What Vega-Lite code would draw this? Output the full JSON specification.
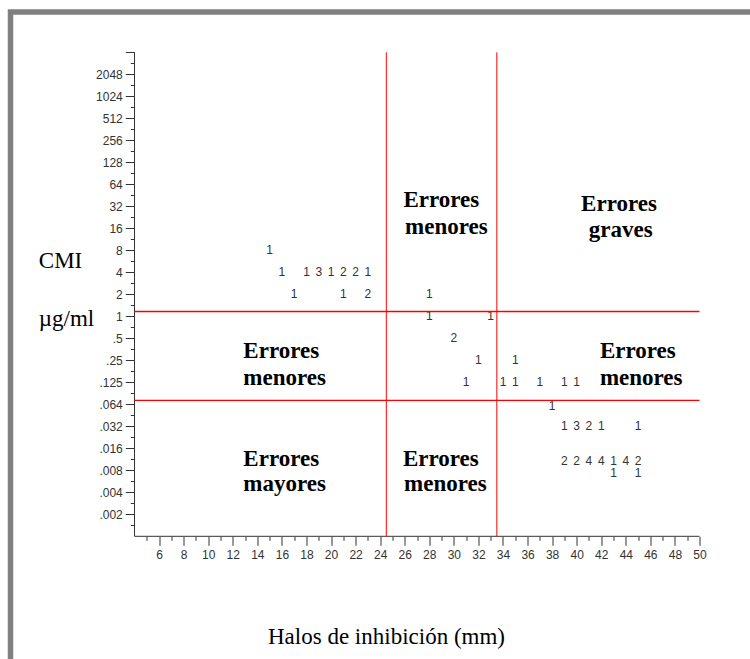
{
  "$schema": "https://vega.github.io/schema/vega-lite/v6.json",
  "width": 739.5,
  "height": 647,
  "autosize": {"type": "none"},
  "padding": {"left": 10.5, "top": 12, "right": 0, "bottom": 0},
  "background": "white",
  "config": {
    "view": {"stroke": "#808080", "strokeWidth": 5.5, "strokeDash": [739.5, 1386.5, 647], "strokeCap": "square", "fill": "white"},
    "axis": {"grid": false, "domain": false, "labelFont": "Liberation Sans", "labelFontSize": 12, "labelColor": "#333333", "tickColor": "#333333", "tickWidth": 1, "labelOverlap": false, "labelBound": false, "labelFlush": false, "titleFont": "Liberation Serif", "titleFontSize": 23, "titleFontWeight": "normal", "titleColor": "#000000"}
  },
  "datasets": {
    "counts": [
      {"x": 15, "y": 8, "n": "1"},
      {"x": 16, "y": 4, "n": "1"}, {"x": 18, "y": 4, "n": "1"}, {"x": 19, "y": 4, "n": "3"}, {"x": 20, "y": 4, "n": "1"}, {"x": 21, "y": 4, "n": "2"}, {"x": 22, "y": 4, "n": "2"}, {"x": 23, "y": 4, "n": "1"},
      {"x": 17, "y": 2, "n": "1"}, {"x": 21, "y": 2, "n": "1"}, {"x": 23, "y": 2, "n": "2"}, {"x": 28, "y": 2, "n": "1"},
      {"x": 28, "y": 1, "n": "1"}, {"x": 33, "y": 1, "n": "1"},
      {"x": 30, "y": 0.5, "n": "2"},
      {"x": 32, "y": 0.25, "n": "1"}, {"x": 35, "y": 0.25, "n": "1"},
      {"x": 31, "y": 0.125, "n": "1"}, {"x": 34, "y": 0.125, "n": "1"}, {"x": 35, "y": 0.125, "n": "1"}, {"x": 37, "y": 0.125, "n": "1"}, {"x": 39, "y": 0.125, "n": "1"}, {"x": 40, "y": 0.125, "n": "1"},
      {"x": 38, "y": 0.06, "n": "1"},
      {"x": 39, "y": 0.032, "n": "1"}, {"x": 40, "y": 0.032, "n": "3"}, {"x": 41, "y": 0.032, "n": "2"}, {"x": 42, "y": 0.032, "n": "1"}, {"x": 45, "y": 0.032, "n": "1"},
      {"x": 39, "y": 0.0104, "n": "2"}, {"x": 40, "y": 0.0104, "n": "2"}, {"x": 41, "y": 0.0104, "n": "4"}, {"x": 42, "y": 0.0104, "n": "4"}, {"x": 43, "y": 0.0104, "n": "1"}, {"x": 44, "y": 0.0104, "n": "4"}, {"x": 45, "y": 0.0104, "n": "2"},
      {"x": 43, "y": 0.0072, "n": "1"}, {"x": 45, "y": 0.0072, "n": "1"}
    ],
    "vlines": [{"x": 24.5}, {"x": 33.5}],
    "hlines": [{"y": 1.163}, {"y": 0.0707}],
    "regions": [
      {"x": 25.89, "y": 31.3, "label": "Errores"},
      {"x": 26.03, "y": 13.37, "label": "menores"},
      {"x": 40.36, "y": 28.0, "label": "Errores"},
      {"x": 40.99, "y": 12.17, "label": "graves"},
      {"x": 12.86, "y": 0.2664, "label": "Errores"},
      {"x": 12.86, "y": 0.1151, "label": "menores"},
      {"x": 41.89, "y": 0.267, "label": "Errores"},
      {"x": 41.89, "y": 0.1151, "label": "menores"},
      {"x": 12.86, "y": 0.00904, "label": "Errores"},
      {"x": 12.86, "y": 0.00402, "label": "mayores"},
      {"x": 25.85, "y": 0.00904, "label": "Errores"},
      {"x": 25.95, "y": 0.00402, "label": "menores"}
    ]
  },
  "layer": [
    {
      "data": {"name": "counts"},
      "mark": {"type": "text", "font": "Liberation Sans", "fontSize": 12, "color": "#333333", "align": "center", "baseline": "middle"},
      "encoding": {
        "x": {
          "field": "x", "type": "quantitative",
          "scale": {"domain": [-6.098, 54.112], "nice": false, "zero": false},
          "axis": {
            "orient": "bottom", "offset": -122.7, "tickCount": 200,
            "values": [5,6,7,8,9,10,11,12,13,14,15,16,17,18,19,20,21,22,23,24,25,26,27,28,29,30,31,32,33,34,35,36,37,38,39,40,41,42,43,44,45,46,47,48,49,50],
            "tickSize": {"condition": {"test": "datum.value % 2 == 0", "value": 9}, "value": 4},
            "labelExpr": "datum.value % 2 == 0 ? format(datum.value, 'd') : ''",
            "labelPadding": 4,
            "title": "Halos de inhibición (mm)",
            "titleAnchor": null,
            "titleX": 375.5, "titleY": 106.7, "titleAlign": "center", "titleBaseline": "alphabetic"
          }
        },
        "y": {
          "field": "y", "type": "quantitative",
          "scale": {"type": "log", "base": 2, "domain": [0.000020456, 14583.4], "nice": false},
          "axis": {
            "orient": "left", "offset": -123.8, "tickCount": 200,
            "values": [0.0013810679, 0.001953125, 0.0027621359, 0.00390625, 0.0055242717, 0.0078125, 0.0110485435, 0.015625, 0.0220970869, 0.03125, 0.0441941738, 0.0625, 0.0883883476, 0.125, 0.1767766953, 0.25, 0.3535533906, 0.5, 0.7071067812, 1, 1.4142135624, 2, 2.8284271247, 4, 5.6568542495, 8, 11.313708499, 16, 22.627416998, 32, 45.254833996, 64, 90.509667992, 128, 181.01933598, 256, 362.03867197, 512, 724.07734394, 1024, 1448.1546879, 2048, 2896.3093757, 4096],
            "tickSize": {"condition": {"test": "abs(log(datum.value)/LN2 - round(log(datum.value)/LN2)) < 0.05", "value": 9}, "value": 4},
            "labelExpr": "abs(log(datum.value)/LN2 - round(log(datum.value)/LN2)) > 0.05 || datum.value > 3000 ? '' : datum.value >= 1 ? format(datum.value, 'd') : ['.5','.25','.125','.064','.032','.016','.008','.004','.002'][round(-log(datum.value)/LN2) - 1]",
            "labelPadding": 3,
            "title": ["CMI", "µg/ml"],
            "titleAngle": 0,
            "titleAnchor": null,
            "titleX": -96, "titleY": 255.7, "titleAlign": "left", "titleBaseline": "alphabetic", "titleLineHeight": 57.4
          }
        },
        "text": {"field": "n", "type": "nominal"}
      }
    },
    {
      "data": {"values": [{}]},
      "mark": {"type": "rule", "color": "#333333", "strokeWidth": 1},
      "encoding": {
        "x": {"datum": 4},
        "y": {"datum": 0.0009765625},
        "y2": {"datum": 4096}
      }
    },
    {
      "data": {"values": [{}]},
      "mark": {"type": "rule", "color": "#333333", "strokeWidth": 1},
      "encoding": {
        "x": {"datum": 4},
        "x2": {"datum": 50},
        "y": {"datum": 0.0009765625}
      }
    },
    {
      "data": {"name": "vlines"},
      "mark": {"type": "rule", "color": "#ff0000", "strokeWidth": 1},
      "encoding": {
        "x": {"field": "x", "type": "quantitative"},
        "y": {"datum": 0.0009765625},
        "y2": {"datum": 4096}
      }
    },
    {
      "data": {"name": "hlines"},
      "mark": {"type": "rule", "color": "#ff0000", "strokeWidth": 1.3},
      "encoding": {
        "x": {"datum": 4},
        "x2": {"datum": 50},
        "y": {"field": "y", "type": "quantitative"}
      }
    },
    {
      "data": {"name": "regions"},
      "mark": {"type": "text", "font": "Liberation Serif", "fontSize": 23, "fontWeight": "bold", "color": "#000000", "align": "left", "baseline": "alphabetic"},
      "encoding": {
        "x": {"field": "x", "type": "quantitative"},
        "y": {"field": "y", "type": "quantitative"},
        "text": {"field": "label", "type": "nominal"}
      }
    }
  ]
}
